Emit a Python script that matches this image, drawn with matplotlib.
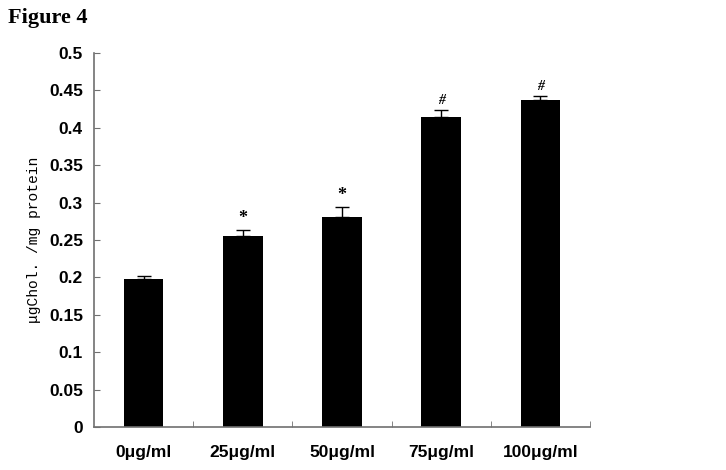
import matplotlib
matplotlib.use("Agg")
import matplotlib.pyplot as plt
import numpy as np

categories = ["0μg/ml", "25μg/ml", "50μg/ml", "75μg/ml", "100μg/ml"]
values = [0.198, 0.255, 0.281, 0.415, 0.437]
errors = [0.004, 0.008, 0.013, 0.009, 0.005]
marks = ["", "*", "*", "#", "#"]
yticks = [0, 0.05, 0.1, 0.15, 0.2, 0.25, 0.3, 0.35, 0.4, 0.45, 0.5]

fig = plt.figure(figsize=(7.26, 4.70), dpi=100)
ax = fig.add_axes([94/726, (470-427)/470, (590-94)/726, (427-53)/470])

x = np.arange(len(categories))
ax.bar(x, values, width=0.4, color="black", zorder=2)
ax.errorbar(x, values, yerr=[np.zeros(len(errors)), errors], fmt="none",
            ecolor="black", elinewidth=1, capsize=5, capthick=1, zorder=3)
for xi, v, e, m in zip(x, values, errors, marks):
    if m:
        ax.text(xi, v + e + 0.004, m, ha="center", va="bottom",
                fontsize=13 if m == "*" else 10, fontweight="bold",
                family="Liberation Serif", style="italic" if m == "#" else "normal")

ax.set_xlim(-0.5, len(categories) - 0.5)
ax.set_ylim(0, 0.5)
ax.set_yticks(yticks)
ax.set_yticklabels([f"{t:g}" for t in yticks])
ax.set_xticks(x)
ax.set_xticklabels(categories)
ax.set_xticks(np.arange(len(categories)) + 0.5, minor=True)

for s in ["top", "right"]:
    ax.spines[s].set_visible(False)
for s in ["left", "bottom"]:
    ax.spines[s].set_color("#707070")
    ax.spines[s].set_linewidth(1.2)

ax.tick_params(axis="y", direction="in", length=4, color="#707070", pad=8,
               labelsize=12.5)
ax.tick_params(axis="x", which="major", length=0, pad=13, labelsize=12.5)
ax.tick_params(axis="x", which="minor", direction="in", length=4, color="#707070")
for lab in ax.get_xticklabels() + ax.get_yticklabels():
    lab.set_fontweight("bold")
    lab.set_family("Liberation Sans")

ax.set_ylabel("μgChol. /mg protein", family="Liberation Mono", fontsize=10.5,
              labelpad=6)

fig.text(8/726, 1 - 18/470, "Figure 4", family="Liberation Serif",
         fontweight="bold", fontsize=16, va="center", ha="left")

fig.savefig("out.png", dpi=100)
